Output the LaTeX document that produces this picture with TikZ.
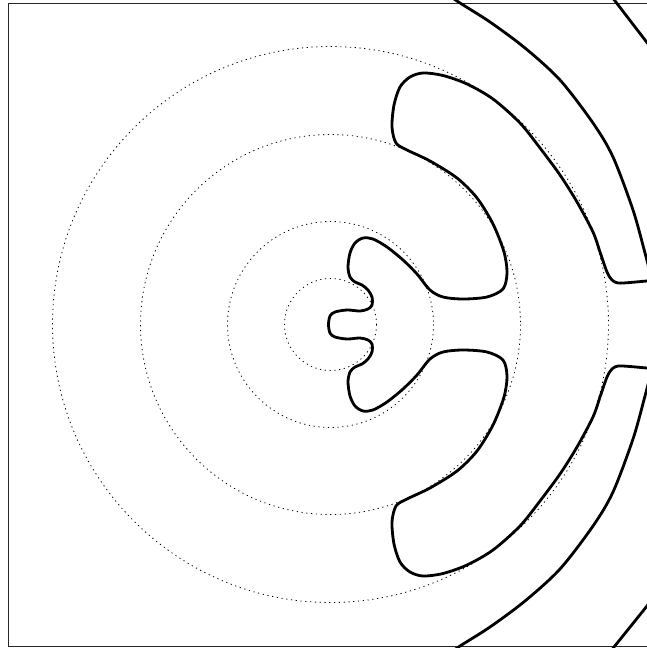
\documentclass[tikz,border=0pt]{standalone}
\begin{document}
\begin{tikzpicture}[x=1pt,y=-1pt,
  contour/.style={line width=2.8pt,line join=round,line cap=round},
  level/.style={line width=0.8pt,dash pattern=on 1.2pt off 3.6pt},
  frame/.style={line width=0.9pt,black!85}]
\useasboundingbox (0,0) rectangle (647,648);
\clip (0,0) rectangle (647,648);
% dotted level circles
\foreach \r in {46,103,190,278}
  \draw[level] (330.5,324.5) circle[radius=\r];
% frame
\draw[frame] (660,3) -- (8,3) -- (8,646) -- (660,646);
% main contour
\draw[contour] plot[smooth,tension=0.5] coordinates {
 (660,280.5) (647,281) (630,282.5) (618,283) (612,280) (607,272) (600,252) (593,232)
 (577,202) (560,175) (540,148) (520,123) (493,99) (467,84) (443,75.5) (423,73)
 (410,77) (400,87) (394,105) (392,127) (396,143) (407,150) (430,161) (457,178)
 (477,198) (493,224) (504,252) (507,273) (503,289) (487,297) (463,299) (443,297)
 (430,290) (417,274) (403,260) (387,247) (373,239) (363,238) (355,243) (350,253)
 (348,267) (350,277) (355,282) (362,285) (368,290) (372,297) (372,305) (368,309)
 (360,311) (347,310) (335,312) (330,316) (328.5,324.5)
 (330,333) (335,337) (347,339) (360,338) (368,340) (372,344) (372,352) (368,359)
 (362,364) (355,367) (350,372) (348,382) (350,396) (355,406) (363,411) (373,410)
 (387,402) (403,389) (417,375) (430,359) (443,352) (463,350) (487,352) (503,360)
 (507,376) (504,397) (493,425) (477,451) (457,471) (430,488) (407,499) (396,506)
 (392,522) (394,544) (400,562) (410,572) (423,576) (443,573.5) (467,565) (493,550)
 (520,526) (540,501) (560,474) (577,447) (593,417) (600,397) (607,377) (612,369)
 (618,366) (630,366.5) (647,368) (660,368.5)};
% outer arcs
\draw[contour] plot[smooth,tension=0.5] coordinates {
 (450,-4) (460,3) (490,22) (525,48) (560,80) (593,123) (613,157) (633,210) (645,253) (652,280)};
\draw[contour] plot[smooth,tension=0.5] coordinates {
 (450,653) (460,646) (490,627) (525,601) (560,569) (593,526) (613,492) (633,439) (645,396) (652,369)};
% corner arcs
\draw[contour] (612,-3) -- (655,53);
\draw[contour] (610,652) -- (655,596);
\end{tikzpicture}
\end{document}
